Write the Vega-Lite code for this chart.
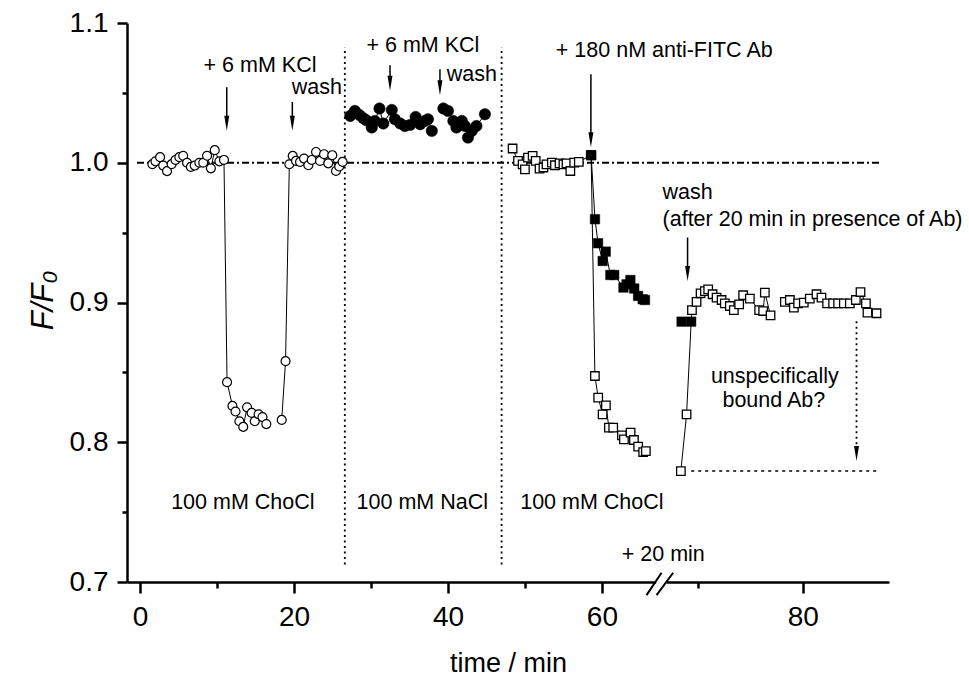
{
  "$schema": "https://vega.github.io/schema/vega-lite/v6.json",
  "width": 762,
  "height": 559,
  "autosize": {"type": "none"},
  "padding": {"left": 127, "top": 23, "right": 80, "bottom": 99},
  "background": "white",
  "config": {
    "view": {"stroke": null},
    "font": "Liberation Sans",
    "axis": {
      "grid": false,
      "domainColor": "black",
      "domainWidth": 2.5,
      "tickColor": "black",
      "tickWidth": 2.5,
      "labelColor": "black",
      "labelFont": "Liberation Sans",
      "labelFontSize": 28,
      "titleColor": "black",
      "titleFont": "Liberation Sans",
      "titleFontWeight": "normal",
      "labelOverlap": false
    }
  },
  "datasets": {
    "points": [
      {"t": 1.6, "r": 0.999, "marker": "oc", "run": "A1"},
      {"t": 2.0, "r": 1.001, "marker": "oc", "run": "A1"},
      {"t": 2.6, "r": 1.004, "marker": "oc", "run": "A1"},
      {"t": 3.0, "r": 0.998, "marker": "oc", "run": "A1"},
      {"t": 3.5, "r": 0.994, "marker": "oc", "run": "A1"},
      {"t": 4.1, "r": 0.999, "marker": "oc", "run": "A1"},
      {"t": 4.6, "r": 1.002, "marker": "oc", "run": "A1"},
      {"t": 5.1, "r": 1.004, "marker": "oc", "run": "A1"},
      {"t": 5.6, "r": 1.005, "marker": "oc", "run": "A1"},
      {"t": 6.1, "r": 1.0, "marker": "oc", "run": "A1"},
      {"t": 6.6, "r": 0.997, "marker": "oc", "run": "A1"},
      {"t": 7.1, "r": 0.998, "marker": "oc", "run": "A1"},
      {"t": 7.7, "r": 1.0, "marker": "oc", "run": "A1"},
      {"t": 8.2, "r": 1.0, "marker": "oc", "run": "A1"},
      {"t": 8.7, "r": 1.005, "marker": "oc", "run": "A1"},
      {"t": 9.2, "r": 0.996, "marker": "oc", "run": "A1"},
      {"t": 9.7, "r": 1.009, "marker": "oc", "run": "A1"},
      {"t": 10.3, "r": 1.001, "marker": "oc", "run": "A1"},
      {"t": 10.9, "r": 1.002, "marker": "oc", "run": "A1"},
      {"t": 11.3, "r": 0.843, "marker": "oc", "run": "A1"},
      {"t": 12.0, "r": 0.826, "marker": "oc", "run": "A1"},
      {"t": 12.4, "r": 0.822, "marker": "oc", "run": "A1"},
      {"t": 12.9, "r": 0.815, "marker": "oc", "run": "A1"},
      {"t": 13.4, "r": 0.811, "marker": "oc", "run": "A1"},
      {"t": 13.9, "r": 0.825, "marker": "oc", "run": "A1"},
      {"t": 14.5, "r": 0.821, "marker": "oc", "run": "A1"},
      {"t": 14.9, "r": 0.815, "marker": "oc", "run": "A1"},
      {"t": 15.4, "r": 0.82, "marker": "oc", "run": "A1"},
      {"t": 15.9, "r": 0.818, "marker": "oc", "run": "A1"},
      {"t": 16.4, "r": 0.813, "marker": "oc", "run": "A1"},
      {"t": 18.4, "r": 0.816, "marker": "oc", "run": "A2"},
      {"t": 18.9, "r": 0.858, "marker": "oc", "run": "A2"},
      {"t": 19.39, "r": 0.9989, "marker": "oc", "run": "A2"},
      {"t": 19.83, "r": 1.0049, "marker": "oc", "run": "A2"},
      {"t": 20.26, "r": 1.0013, "marker": "oc", "run": "A2"},
      {"t": 20.78, "r": 1.0006, "marker": "oc", "run": "A2"},
      {"t": 21.3, "r": 1.003, "marker": "oc", "run": "A2"},
      {"t": 21.86, "r": 0.9982, "marker": "oc", "run": "A2"},
      {"t": 22.3, "r": 1.002, "marker": "oc", "run": "A2"},
      {"t": 22.86, "r": 1.0077, "marker": "oc", "run": "A2"},
      {"t": 23.38, "r": 1.0013, "marker": "oc", "run": "A2"},
      {"t": 23.9, "r": 1.0061, "marker": "oc", "run": "A2"},
      {"t": 24.45, "r": 0.9996, "marker": "oc", "run": "A2"},
      {"t": 24.97, "r": 1.0054, "marker": "oc", "run": "A2"},
      {"t": 25.45, "r": 0.9941, "marker": "oc", "run": "A2"},
      {"t": 25.87, "r": 0.9973, "marker": "oc", "run": "A2"},
      {"t": 26.31, "r": 1.0006, "marker": "oc", "run": "A2"},
      {"t": 27.3, "r": 1.0335, "marker": "fc", "run": "B1"},
      {"t": 27.9, "r": 1.0371, "marker": "fc", "run": "B1"},
      {"t": 28.5, "r": 1.0342, "marker": "fc", "run": "B1"},
      {"t": 29.0, "r": 1.0319, "marker": "fc", "run": "B1"},
      {"t": 29.4, "r": 1.0304, "marker": "fc", "run": "B1"},
      {"t": 30.1, "r": 1.0252, "marker": "fc", "run": "B1"},
      {"t": 30.5, "r": 1.0299, "marker": "fc", "run": "B1"},
      {"t": 31.1, "r": 1.0388, "marker": "fc", "run": "B1"},
      {"t": 31.6, "r": 1.0281, "marker": "fc", "run": "B1"},
      {"t": 32.7, "r": 1.0378, "marker": "fc", "run": "B1"},
      {"t": 33.1, "r": 1.0311, "marker": "fc", "run": "B1"},
      {"t": 33.8, "r": 1.0281, "marker": "fc", "run": "B1"},
      {"t": 34.4, "r": 1.0263, "marker": "fc", "run": "B1"},
      {"t": 35.1, "r": 1.0271, "marker": "fc", "run": "B1"},
      {"t": 35.8, "r": 1.0328, "marker": "fc", "run": "B1"},
      {"t": 36.4, "r": 1.0276, "marker": "fc", "run": "B1"},
      {"t": 37.0, "r": 1.0299, "marker": "fc", "run": "B1"},
      {"t": 37.4, "r": 1.0311, "marker": "fc", "run": "B1"},
      {"t": 37.9, "r": 1.0228, "marker": "fc", "run": "B1"},
      {"t": 39.4, "r": 1.0388, "marker": "fc", "run": "B2"},
      {"t": 40.0, "r": 1.0371, "marker": "fc", "run": "B2"},
      {"t": 40.7, "r": 1.0299, "marker": "fc", "run": "B2"},
      {"t": 41.1, "r": 1.0252, "marker": "fc", "run": "B2"},
      {"t": 41.8, "r": 1.0299, "marker": "fc", "run": "B2"},
      {"t": 42.2, "r": 1.0263, "marker": "fc", "run": "B2"},
      {"t": 42.6, "r": 1.018, "marker": "fc", "run": "B2"},
      {"t": 43.1, "r": 1.0228, "marker": "fc", "run": "B2"},
      {"t": 43.7, "r": 1.0263, "marker": "fc", "run": "B2"},
      {"t": 44.8, "r": 1.0347, "marker": "fc", "run": "B2"},
      {"t": 48.4, "r": 1.0102, "marker": "os", "run": "C1"},
      {"t": 49.1, "r": 1.0013, "marker": "os", "run": "C1"},
      {"t": 49.7, "r": 0.9989, "marker": "os", "run": "C1"},
      {"t": 50.0, "r": 0.9953, "marker": "os", "run": "C1"},
      {"t": 50.4, "r": 1.0037, "marker": "os", "run": "C1"},
      {"t": 51.0, "r": 1.0049, "marker": "os", "run": "C1"},
      {"t": 51.4, "r": 1.0013, "marker": "os", "run": "C1"},
      {"t": 51.9, "r": 0.9958, "marker": "os", "run": "C1"},
      {"t": 52.4, "r": 0.9966, "marker": "os", "run": "C1"},
      {"t": 52.8, "r": 0.9989, "marker": "os", "run": "C1"},
      {"t": 53.5, "r": 1.0001, "marker": "os", "run": "C1"},
      {"t": 53.9, "r": 0.9982, "marker": "os", "run": "C1"},
      {"t": 54.5, "r": 0.9996, "marker": "os", "run": "C1"},
      {"t": 55.0, "r": 0.9989, "marker": "os", "run": "C1"},
      {"t": 55.4, "r": 0.9996, "marker": "os", "run": "C1"},
      {"t": 55.9, "r": 0.9941, "marker": "os", "run": "C1"},
      {"t": 56.4, "r": 1.0001, "marker": "os", "run": "C1"},
      {"t": 57.0, "r": 1.0006, "marker": "os", "run": "C1"},
      {"t": 58.6, "r": 1.0054, "marker": "fs", "run": "C1"},
      {"t": 59.09, "r": 0.8474, "marker": "os", "run": "C1"},
      {"t": 59.52, "r": 0.8319, "marker": "os", "run": "C1"},
      {"t": 60.09, "r": 0.82, "marker": "os", "run": "C1"},
      {"t": 60.52, "r": 0.8264, "marker": "os", "run": "C1"},
      {"t": 60.91, "r": 0.8105, "marker": "os", "run": "C1"},
      {"t": 61.47, "r": 0.8105, "marker": "os", "run": "C1"},
      {"t": 62.6, "r": 0.8049, "marker": "os", "run": "C1"},
      {"t": 62.86, "r": 0.8021, "marker": "os", "run": "C1"},
      {"t": 63.73, "r": 0.8069, "marker": "os", "run": "C1"},
      {"t": 64.16, "r": 0.8016, "marker": "os", "run": "C1"},
      {"t": 64.71, "r": 0.7969, "marker": "os", "run": "C1"},
      {"t": 65.36, "r": 0.793, "marker": "os", "run": "C1"},
      {"t": 65.71, "r": 0.7937, "marker": "os", "run": "C1"},
      {"t": 58.6, "r": 1.0054, "marker": "fs", "run": "D1"},
      {"t": 59.1, "r": 0.9596, "marker": "fs", "run": "D1"},
      {"t": 59.5, "r": 0.9424, "marker": "fs", "run": "D1"},
      {"t": 60.1, "r": 0.9297, "marker": "fs", "run": "D1"},
      {"t": 60.5, "r": 0.9364, "marker": "fs", "run": "D1"},
      {"t": 61.1, "r": 0.9197, "marker": "fs", "run": "D1"},
      {"t": 61.6, "r": 0.9197, "marker": "fs", "run": "D1"},
      {"t": 62.8, "r": 0.9107, "marker": "fs", "run": "D1"},
      {"t": 63.2, "r": 0.913, "marker": "fs", "run": "D1"},
      {"t": 63.7, "r": 0.9161, "marker": "fs", "run": "D1"},
      {"t": 64.2, "r": 0.91, "marker": "fs", "run": "D1"},
      {"t": 64.7, "r": 0.9047, "marker": "fs", "run": "D1"},
      {"t": 65.3, "r": 0.9023, "marker": "fs", "run": "D1"},
      {"t": 65.6, "r": 0.9018, "marker": "fs", "run": "D1"},
      {"t": 70.35, "r": 0.8863, "marker": "fs", "run": "D2"},
      {"t": 70.26, "r": 0.7794, "marker": "os", "run": "C2"},
      {"t": 71.0, "r": 0.82, "marker": "os", "run": "C2"},
      {"t": 71.6, "r": 0.8863, "marker": "fs", "run": "C2"},
      {"t": 71.7, "r": 0.8946, "marker": "os", "run": "C2"},
      {"t": 72.3, "r": 0.9004, "marker": "os", "run": "C2"},
      {"t": 72.82, "r": 0.9066, "marker": "os", "run": "C2"},
      {"t": 73.38, "r": 0.9082, "marker": "os", "run": "C2"},
      {"t": 73.81, "r": 0.9094, "marker": "os", "run": "C2"},
      {"t": 74.38, "r": 0.9059, "marker": "os", "run": "C2"},
      {"t": 74.9, "r": 0.9035, "marker": "os", "run": "C2"},
      {"t": 75.55, "r": 0.9018, "marker": "os", "run": "C2"},
      {"t": 75.97, "r": 0.8994, "marker": "os", "run": "C2"},
      {"t": 76.62, "r": 0.8975, "marker": "os", "run": "C2"},
      {"t": 77.14, "r": 0.8946, "marker": "os", "run": "C2"},
      {"t": 77.83, "r": 0.8987, "marker": "os", "run": "C2"},
      {"t": 78.35, "r": 0.9052, "marker": "os", "run": "C2"},
      {"t": 79.22, "r": 0.9028, "marker": "os", "run": "C2"},
      {"t": 80.43, "r": 0.8946, "marker": "os", "run": "C2"},
      {"t": 80.95, "r": 0.8939, "marker": "os", "run": "C2"},
      {"t": 81.17, "r": 0.9071, "marker": "os", "run": "C2"},
      {"t": 81.91, "r": 0.8908, "marker": "os", "run": "C2"},
      {"t": 83.77, "r": 0.9004, "marker": "os", "run": "C3"},
      {"t": 84.42, "r": 0.9018, "marker": "os", "run": "C3"},
      {"t": 84.94, "r": 0.8963, "marker": "os", "run": "C3"},
      {"t": 85.49, "r": 0.8994, "marker": "os", "run": "C3"},
      {"t": 86.23, "r": 0.8999, "marker": "os", "run": "C3"},
      {"t": 87.01, "r": 0.9028, "marker": "os", "run": "C3"},
      {"t": 87.88, "r": 0.9059, "marker": "os", "run": "C3"},
      {"t": 88.53, "r": 0.9035, "marker": "os", "run": "C3"},
      {"t": 89.26, "r": 0.8994, "marker": "os", "run": "C3"},
      {"t": 90.04, "r": 0.8994, "marker": "os", "run": "C3"},
      {"t": 90.69, "r": 0.8994, "marker": "os", "run": "C3"},
      {"t": 91.43, "r": 0.8994, "marker": "os", "run": "C3"},
      {"t": 92.21, "r": 0.8994, "marker": "os", "run": "C3"},
      {"t": 92.99, "r": 0.9018, "marker": "os", "run": "C3"},
      {"t": 93.6, "r": 0.9075, "marker": "os", "run": "C3"},
      {"t": 94.3, "r": 0.8994, "marker": "os", "run": "C3"},
      {"t": 94.5, "r": 0.8928, "marker": "os", "run": "C3"},
      {"t": 95.68, "r": 0.8923, "marker": "os", "run": "C3"}
    ],
    "baseline": [{"t": -0.4, "t2": 96.4, "r": 1.0}],
    "separators": [
      {"t": 26.6, "r": 0.7126, "r2": 1.0827},
      {"t": 46.97, "r": 0.7126, "r2": 1.0827}
    ],
    "floor": [{"t": 71.6, "t2": 96.1, "r": 0.7794}],
    "arrows": [
      {"t": 11.26, "r": 1.054, "r2": 1.0308},
      {"t": 19.78, "r": 1.0435, "r2": 1.0308},
      {"t": 32.47, "r": 1.0698, "r2": 1.0594},
      {"t": 38.96, "r": 1.0669, "r2": 1.0563},
      {"t": 58.57, "r": 1.0633, "r2": 1.0191},
      {"t": 71.13, "r": 0.9465, "r2": 0.9234}
    ],
    "arrowheads": [
      {"t": 11.26, "r": 1.0282},
      {"t": 19.78, "r": 1.0282},
      {"t": 32.47, "r": 1.0568},
      {"t": 38.96, "r": 1.0537},
      {"t": 58.57, "r": 1.0165},
      {"t": 71.13, "r": 0.9208},
      {"t": 93.08, "r": 0.7919}
    ],
    "dottedArrow": [{"t": 93.08, "r": 0.8865, "r2": 0.7945}],
    "breakMarks": [
      {"t": 65.8, "r": 0.6906, "t2": 67.75, "r2": 0.7066},
      {"t": 67.1, "r": 0.6906, "t2": 69.26, "r2": 0.7066}
    ],
    "breakGap": [{"t": 67.05, "t2": 68.4, "r": 0.7}],
    "labelsCenter": [
      {"t": 15.58, "r": 1.065, "label": "+ 6 mM KCl"},
      {"t": 36.75, "r": 1.0789, "label": "+ 6 mM KCl"},
      {"t": 68.1, "r": 1.076, "label": "+ 180 nM anti-FITC Ab"},
      {"t": 82.47, "r": 0.8427, "label": "unspecifically"},
      {"t": 82.34, "r": 0.825, "label": "bound Ab?"},
      {"t": 13.35, "r": 0.752, "label": "100 mM ChoCl"},
      {"t": 36.67, "r": 0.752, "label": "100 mM NaCl"},
      {"t": 58.7, "r": 0.752, "label": "100 mM ChoCl"},
      {"t": 67.97, "r": 0.715, "label": "+ 20 min"}
    ],
    "labelsLeft": [
      {"t": 19.7, "r": 1.049, "label": "wash"},
      {"t": 39.83, "r": 1.0586, "label": "wash"},
      {"t": 67.88, "r": 0.9739, "label": "wash"},
      {"t": 67.88, "r": 0.9548, "label": "(after 20 min in presence of Ab)"}
    ]
  },
  "encoding": {
    "x": {
      "field": "t",
      "type": "quantitative",
      "scale": {"domain": [-1.7, 97.3], "nice": false, "zero": false},
      "axis": {
        "title": "time / min",
        "titleFontSize": 27,
        "titleBaseline": "alphabetic",
        "titleY": 89,
        "values": [0, 10, 20, 30, 40, 50, 60, 72.47, 86.1],
        "labelExpr": "datum.value > 80 ? '80' : (datum.value % 20 == 0 ? format(datum.value, 'd') : '')",
        "tickSize": {"condition": {"test": "datum.value % 20 == 0 || datum.value > 80", "value": 11}, "value": 6},
        "labelPadding": 10,
        "labelFlush": false
      }
    },
    "y": {
      "field": "r",
      "type": "quantitative",
      "scale": {"domain": [0.7, 1.1], "nice": false, "zero": false},
      "axis": {
        "title": "F/F₀",
        "titleFontSize": 31,
        "titleFontStyle": "italic",
        "titleAngle": -90,
        "titleAlign": "center",
        "titleBaseline": "alphabetic",
        "titleX": -75,
        "titleY": 277,
        "values": [0.7, 0.75, 0.8, 0.85, 0.9, 0.95, 1.0, 1.05, 1.1],
        "labelExpr": "abs(datum.value * 10 - round(datum.value * 10)) < 0.001 ? format(datum.value, '.1f') : ''",
        "tickSize": {"condition": {"test": "abs(datum.value * 10 - round(datum.value * 10)) < 0.001", "value": 10}, "value": 5},
        "labelPadding": 9
      }
    }
  },
  "layer": [
    {
      "data": {"name": "baseline"},
      "mark": {"type": "rule", "color": "black", "strokeWidth": 2, "strokeDash": [7, 3, 2, 3]},
      "encoding": {"x2": {"field": "t2"}}
    },
    {
      "data": {"name": "separators"},
      "mark": {"type": "rule", "color": "black", "strokeWidth": 1.8, "strokeDash": [2, 3.5]},
      "encoding": {"y2": {"field": "r2"}}
    },
    {
      "data": {"name": "floor"},
      "mark": {"type": "rule", "color": "black", "strokeWidth": 1.6, "strokeDash": [3, 4]},
      "encoding": {"x2": {"field": "t2"}}
    },
    {
      "data": {"name": "dottedArrow"},
      "mark": {"type": "rule", "color": "black", "strokeWidth": 1.8, "strokeDash": [2, 3.5]},
      "encoding": {"y2": {"field": "r2"}}
    },
    {
      "data": {"name": "arrows"},
      "mark": {"type": "rule", "color": "black", "strokeWidth": 1.5},
      "encoding": {"y2": {"field": "r2"}}
    },
    {
      "data": {"name": "arrowheads"},
      "mark": {"type": "point", "shape": "M-0.33,-1L0.33,-1L0,1Z", "size": 225, "filled": true, "color": "black", "opacity": 1},
      "encoding": {}
    },
    {
      "data": {"name": "breakGap"},
      "mark": {"type": "rule", "color": "white", "strokeWidth": 5, "clip": false},
      "encoding": {"x2": {"field": "t2"}}
    },
    {
      "data": {"name": "breakMarks"},
      "mark": {"type": "rule", "color": "black", "strokeWidth": 2, "clip": false},
      "encoding": {"x2": {"field": "t2"}, "y2": {"field": "r2"}}
    },
    {
      "data": {"name": "points"},
      "mark": {"type": "line", "color": "black", "strokeWidth": 1},
      "encoding": {"detail": {"field": "run", "type": "nominal"}, "order": {"field": "t", "type": "quantitative"}}
    },
    {
      "data": {"name": "points"},
      "transform": [{"filter": "datum.marker == 'oc'"}],
      "mark": {"type": "point", "shape": "circle", "size": 80, "filled": false, "fill": "white", "stroke": "black", "strokeWidth": 1.2, "opacity": 1},
      "encoding": {}
    },
    {
      "data": {"name": "points"},
      "transform": [{"filter": "datum.marker == 'fc'"}],
      "mark": {"type": "point", "shape": "circle", "size": 130, "filled": true, "fill": "black", "stroke": "black", "strokeWidth": 0.5, "opacity": 1},
      "encoding": {}
    },
    {
      "data": {"name": "points"},
      "transform": [{"filter": "datum.marker == 'os'"}],
      "mark": {"type": "point", "shape": "square", "size": 72, "filled": false, "fill": "white", "stroke": "black", "strokeWidth": 1.3, "opacity": 1},
      "encoding": {}
    },
    {
      "data": {"name": "points"},
      "transform": [{"filter": "datum.marker == 'fs'"}],
      "mark": {"type": "point", "shape": "square", "size": 90, "filled": true, "fill": "black", "stroke": "black", "strokeWidth": 0.5, "opacity": 1},
      "encoding": {}
    },
    {
      "data": {"name": "labelsCenter"},
      "mark": {"type": "text", "align": "center", "baseline": "alphabetic", "font": "Liberation Sans", "fontSize": 21.5, "color": "black", "clip": false},
      "encoding": {"text": {"field": "label"}}
    },
    {
      "data": {"name": "labelsLeft"},
      "mark": {"type": "text", "align": "left", "baseline": "alphabetic", "font": "Liberation Sans", "fontSize": 21.5, "color": "black", "clip": false},
      "encoding": {"text": {"field": "label"}}
    }
  ]
}
